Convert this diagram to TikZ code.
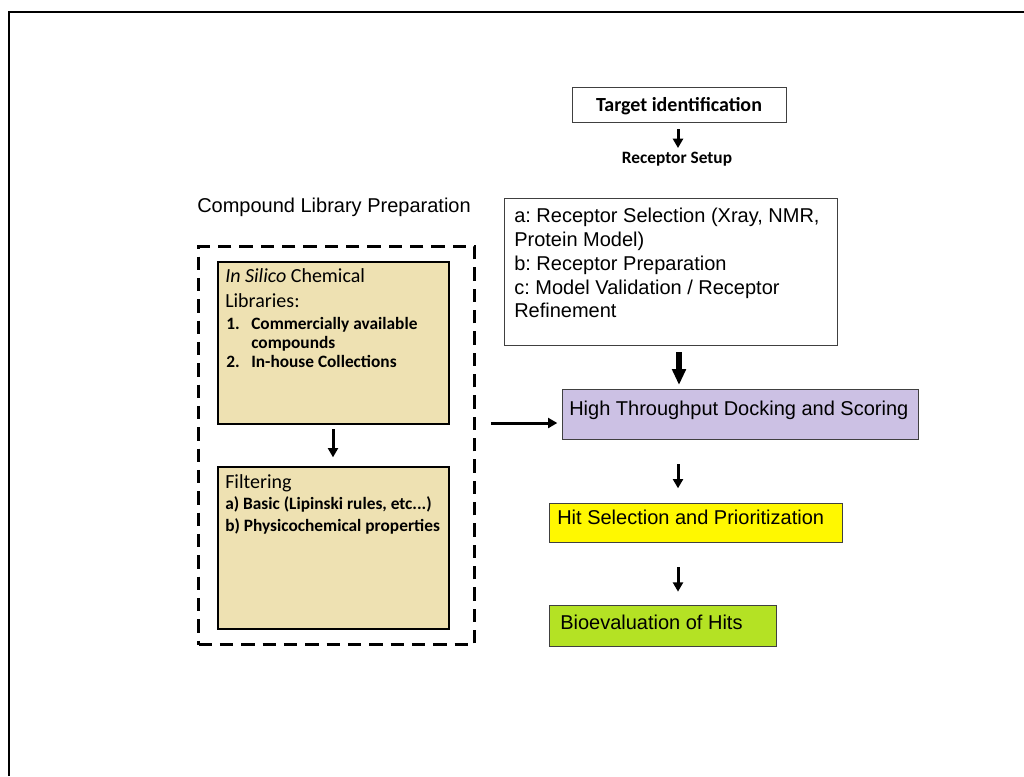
\documentclass[tikz,border=0pt]{standalone}
\usepackage{fontspec}
\setmainfont{Liberation Sans}
\newfontfamily\carl{Carlito}
\usetikzlibrary{arrows.meta}
\definecolor{tanfill}{RGB}{238,225,178}
\definecolor{lav}{RGB}{204,193,228}
\definecolor{hityel}{RGB}{255,248,0}
\definecolor{biogrn}{RGB}{180,226,36}
\frenchspacing
\begin{document}
\begin{tikzpicture}[x=0.75pt,y=-0.75pt,
  boxw/.style={draw=black!75, line width=0.9pt, inner sep=0pt, anchor=north west},
  tanbox/.style={draw=black, line width=1.5pt, fill=tanfill, inner sep=0pt, anchor=north west},
  dashbox/.style={draw=black, line width=2.4pt, dash pattern=on 10pt off 6pt, inner sep=0pt, anchor=north west},
  arialtxt/.style={font=\fontsize{15}{16.5}\selectfont, anchor=base west, inner sep=0pt},
  calhead/.style={font=\carl\fontsize{15}{18}\selectfont, anchor=base west, inner sep=0pt},
  calitem/.style={font=\carl\bfseries\fontsize{13}{15}\selectfont, anchor=base west, inner sep=0pt},
  flow/.style={-{Triangle[width=7.5pt,length=7pt]}, line width=2.25pt},
  bigflow/.style={-{Triangle[width=10pt,length=12pt]}, line width=4.5pt}]
\useasboundingbox (0,0) rectangle (1024,776);
% outer frame
\draw[line width=1.6pt] (9,776) -- (9,12) -- (1024,12);

% right column boxes
\node[boxw, minimum width=214*0.75pt, minimum height=35*0.75pt] (target) at (572,87) {};
\node[font=\carl\bfseries\fontsize{15}{18}\selectfont, anchor=base, inner sep=0pt] (targettxt) at (679,111) {Target identification};
\node[font=\carl\bfseries\fontsize{13}{15}\selectfont, anchor=base, inner sep=0pt] (setup) at (677,163) {Receptor Setup};

\node[boxw, minimum width=333*0.75pt, minimum height=147*0.75pt] (rec) at (504,198) {};
\node[arialtxt] (r1) at (514,222) {a: Receptor Selection (Xray, NMR,};
\node[arialtxt] (r2) at (514,246) {Protein Model)};
\node[arialtxt] (r3) at (514,270) {b: Receptor Preparation};
\node[arialtxt] (r4) at (514,294) {c: Model Validation / Receptor};
\node[arialtxt] (r5) at (514,317) {Refinement};

\node[boxw, fill=lav, minimum width=356*0.75pt, minimum height=50*0.75pt] (ht) at (562,389) {};
\node[arialtxt] (httxt) at (569,415) {High Throughput Docking and Scoring};

\node[boxw, fill=hityel, minimum width=293*0.75pt, minimum height=39*0.75pt] (hit) at (549,503) {};
\node[arialtxt] (hittxt) at (557,524) {Hit Selection and Prioritization};

\node[boxw, fill=biogrn, minimum width=227*0.75pt, minimum height=41*0.75pt] (bio) at (549,605) {};
\node[arialtxt] (biotxt) at (560,629) {Bioevaluation of Hits};

% left column
\node[arialtxt] (cltitle) at (197,212) {Compound Library Preparation};
\node[dashbox, minimum width=276*0.75pt, minimum height=398*0.75pt] (dash) at (197,245) {};

\node[tanbox, minimum width=231*0.75pt, minimum height=162*0.75pt] (tan1) at (217,261) {};
\node[calhead] (h1) at (225,282) {\textit{In Silico} Chemical};
\node[calhead] (h2) at (225,307) {Libraries:};
\node[calitem] (n1) at (226,329) {1.};
\node[calitem] (i1) at (251,329) {Commercially available};
\node[calitem] (i1b) at (251,348) {compounds};
\node[calitem] (n2) at (226,367) {2.};
\node[calitem] (i2) at (251,367) {In-house Collections};

\node[tanbox, minimum width=231*0.75pt, minimum height=162*0.75pt] (tan2) at (217,466) {};
\node[calhead] (f0) at (225,488) {Filtering};
\node[calitem] (f1) at (225,509) {a) Basic (Lipinski rules, etc...)};
\node[calitem] (f2) at (225,531) {b) Physicochemical properties};

% connectors
\coordinate (xa) at (678,0);
\coordinate (xb) at (679,0);
\coordinate (xc) at (333,0);
\coordinate (ly) at (0,423);
\draw[flow, shorten <=4.5pt, shorten >=2.5pt] (xa |- target.south) -- (xa |- setup.north);
\draw[bigflow, shorten <=4.5pt, shorten >=3pt] (xb |- rec.south) -- (xb |- ht.north);
\draw[flow, shorten <=18pt, shorten >=11pt] (xa |- ht.south) -- (xa |- hit.north);
\draw[flow, shorten <=18pt, shorten >=10pt] (xa |- hit.south) -- (xa |- bio.north);
\draw[flow, shorten <=3pt, shorten >=6.5pt] (xc |- tan1.south) -- (xc |- tan2.north);
\draw[flow, shorten <=11pt, shorten >=3.5pt] (dash.east |- ly) -- (ht.west |- ly);
\end{tikzpicture}
\end{document}
